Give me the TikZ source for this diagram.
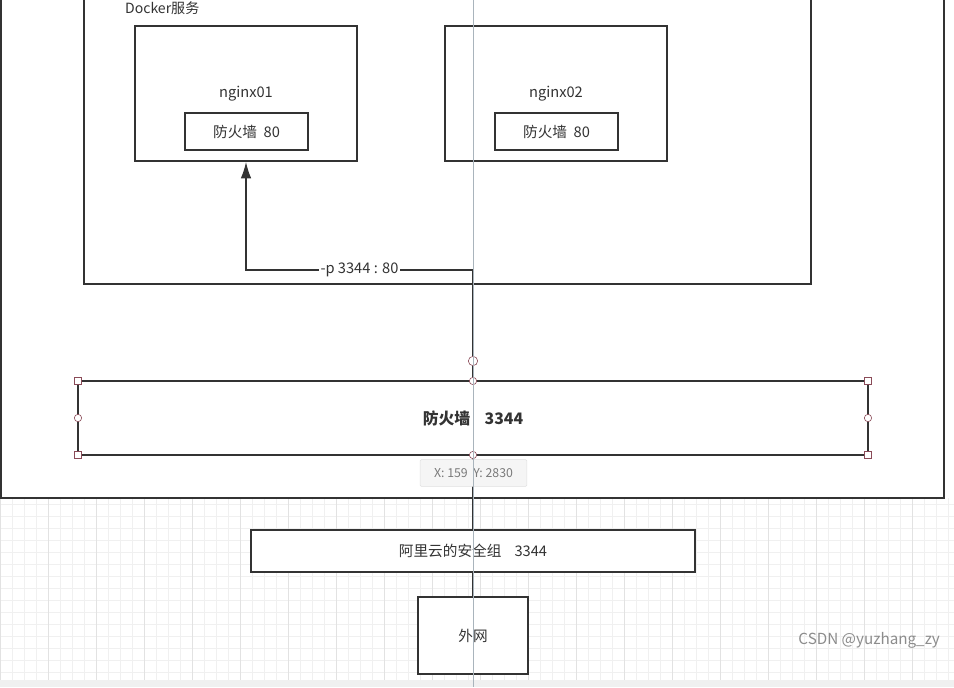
\documentclass[tikz,border=0pt]{standalone}
\usepackage{fontspec}
\setmainfont{Noto Sans CJK SC}
\usepackage{tikz}
\usetikzlibrary{positioning,arrows.meta,calc}
\usepackage{xcolor}
\definecolor{ink}{HTML}{333333}
\definecolor{gridc}{HTML}{F0F0F0}
\definecolor{gridm}{HTML}{E2E2E2}
\definecolor{handle}{HTML}{8A4B58}
\definecolor{guide}{HTML}{A9B4BC}
\definecolor{tipgray}{HTML}{7A7A7A}
\tikzset{box/.style={draw=ink,line width=1.3pt,fill=white,text=ink,font=\fontsize{12.5}{14}\selectfont,inner sep=0pt},
  frame/.style={draw=ink,line width=1.3pt},
  link/.style={draw=ink,line width=1.3pt},
  sqhandle/.style={draw=handle,fill=white,line width=0.5pt},
  cirhandle/.style={draw=handle,fill=white,line width=0.5pt}}

\begin{document}
\begin{tikzpicture}[>={Latex[length=5mm,width=3.2mm]}, x=0.03cm, y=-0.03cm]
    \useasboundingbox (0,0) rectangle (954,687);
    \fill[white](0,0)rectangle(954,687);
    % grid below the host
    \foreach \gx in {0,12,...,954}\draw[gridc,line width=0.4pt](\gx,498)--(\gx,680);
    \foreach \gy in {504,516,...,680}\draw[gridc,line width=0.4pt](0,\gy)--(954,\gy);
    \foreach \gx in {0,48,...,954}\draw[gridm,line width=0.4pt](\gx,498)--(\gx,680);
    \fill[black!6](0,680)rectangle(954,687);
    % host and docker frames
    \draw[frame,fill=white](1,-10)rectangle(944,498);
    \draw[frame](84,-10)rectangle(811,284);
    \node[anchor=base west,text=ink,font=\fontsize{12}{14}\selectfont] (dockerlbl) at (121,13) {Docker服务};
    % containers
    \node[box,minimum width=6.66cm,minimum height=4.05cm] (ngx1) at (246,93.5) {};
    \node[text=ink,font=\fontsize{12.5}{14}\selectfont] (ngx1lbl) at (246,94) {nginx01};
    \node[box,minimum width=3.69cm,minimum height=1.11cm] (fw1) at (246.5,131.5) {防火墙\ \ 80};
    \node[box,minimum width=6.66cm,minimum height=4.05cm] (ngx2) at (556,93.5) {};
    \node[text=ink,font=\fontsize{12.5}{14}\selectfont] (ngx2lbl) at (556,94) {nginx02};
    \node[box,minimum width=3.69cm,minimum height=1.11cm] (fw2) at (556.5,131.5) {防火墙\ \ 80};
    % host firewall and outside
    \node[box,minimum width=23.7cm,minimum height=2.22cm,font=\fontsize{13.5}{16}\selectfont\bfseries] (fwhost) at (473,418) {防火墙\ \ \ \ 3344};
    \node[box,minimum width=13.32cm,minimum height=1.26cm] (aliyun) at (473,551) {阿里云的安全组\ \ \ \ 3344};
    \node[box,minimum width=3.3cm,minimum height=2.31cm] (wan) at (473,635.5) {外网};
    \coordinate (bend) at (473,270);
    \draw[link,->](fwhost.north)--(bend)-|node[pos=0.25,fill=white,text=ink,inner sep=1pt,font=\fontsize{12.5}{14}\selectfont]{-p 3344 : 80}(ngx1.south);
    \draw[link](fwhost.south)--(aliyun.north);
    \draw[link](aliyun.south)--(wan.north);
    % selection handles
    \foreach \hx/\hy in {78/381,868/381,78/455,868/455}
      \draw[sqhandle]($(\hx,\hy)+(-3.5,-3.5)$)rectangle($(\hx,\hy)+(3.5,3.5)$);
    \foreach \hx/\hy in {473/381,473/455,78/418,868/418}
      \draw[cirhandle](\hx,\hy)circle(0.11cm);
    \draw[cirhandle](473,361)circle(0.14cm);
    % tooltip
    \node[draw=black!12,fill=black!4,rounded corners=1pt,text=tipgray,minimum width=3.2cm,minimum height=0.8cm,font=\fontsize{10.5}{12}\selectfont] (tip) at (473.5,473) {X: 159\ \ Y: 2830};
    % guide line
    \draw[guide,line width=0.5pt](473,0)--(473,687);
    \node[anchor=east,text=black!45,font=\fontsize{13}{15}\selectfont] (mark) at (944,640) {CSDN @yuzhang\_zy};
  \end{tikzpicture}
\end{document}
